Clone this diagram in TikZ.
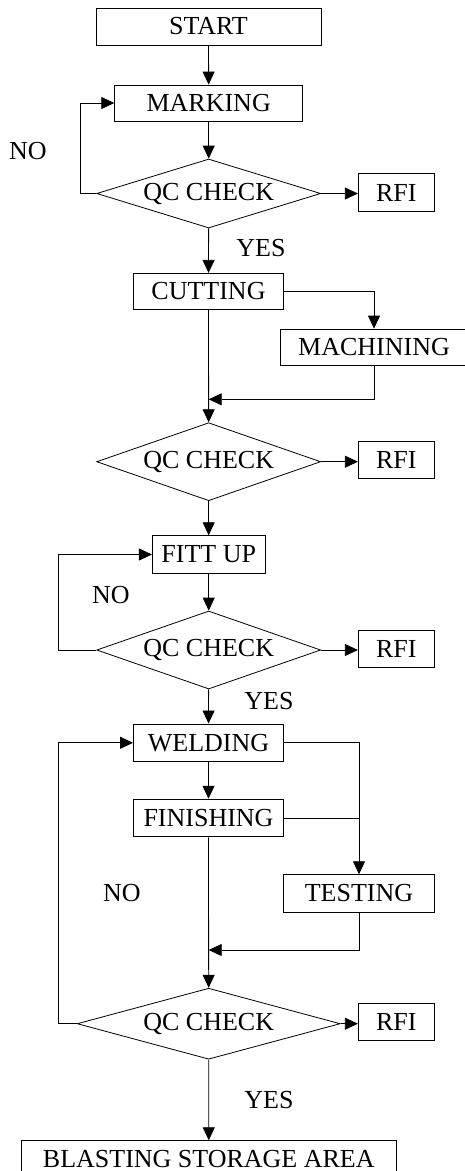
\documentclass[tikz,border=0pt]{standalone}
\usepackage{fontspec}
\setmainfont{Liberation Serif}
\usetikzlibrary{shapes.geometric,arrows.meta}
\begin{document}
\begin{tikzpicture}[x=1pt,y=-1pt]

      \tikzset{stepbox/.style={draw, rectangle, inner sep=0pt, line width=0.8pt, font=\fontsize{26}{30}\selectfont},
               check/.style={draw, diamond, inner sep=0pt, shape aspect=3.5, line width=0.8pt, font=\fontsize{26}{30}\selectfont},
               answer/.style={inner sep=0pt, font=\fontsize{26}{30}\selectfont},
               flow/.style={->, >={Triangle[length=13pt,width=12pt]}, line width=0.8pt}}
      \useasboundingbox (0,0) rectangle (464,1171);
%% Boxes
      	\node[stepbox, minimum width=225pt, minimum height=37pt] (start) at (208.5,26.5) {START};
      	\node[stepbox, minimum width=188pt, minimum height=36pt] (mark) at (208.7,103) {MARKING};
      	\node[check, minimum width=224pt, minimum height=69pt] (qc1) at (208.7,193.5) {QC CHECK};
      	\node[stepbox, minimum width=76pt, minimum height=37.5pt] (rfi1) at (396.3,192.5) {RFI};
      	\node[stepbox, minimum width=150pt, minimum height=36pt] (cut) at (208.5,291.3) {CUTTING};
      	\node[stepbox, minimum width=188pt, minimum height=36pt] (mach) at (374,347) {MACHINING};
      	\node[check, minimum width=224pt, minimum height=78pt] (qc2) at (208.7,461.7) {QC CHECK};
      	\node[stepbox, minimum width=76pt, minimum height=37.5pt] (rfi2) at (396.3,460) {RFI};
      	\node[stepbox, minimum width=112.7pt, minimum height=37.6pt] (fit) at (208.7,554.5) {FITT UP};
      	\node[check, minimum width=224pt, minimum height=78pt] (qc3) at (208.7,650) {QC CHECK};
      	\node[stepbox, minimum width=76pt, minimum height=37.5pt] (rfi3) at (396.3,648.7) {RFI};
      	\node[stepbox, minimum width=150pt, minimum height=37.7pt] (weld) at (208.5,742.8) {WELDING};
      	\node[stepbox, minimum width=150pt, minimum height=37.7pt] (fin) at (208.5,818) {FINISHING};
      	\node[stepbox, minimum width=150.6pt, minimum height=37.6pt] (test) at (359,893.5) {TESTING};
      	\node[check, minimum width=263pt, minimum height=71pt] (qc4) at (208.7,1023.7) {QC CHECK};
      	\node[stepbox, minimum width=76pt, minimum height=37.5pt] (rfi4) at (396.3,1022) {RFI};
      	\node[stepbox, minimum width=375.7pt, minimum height=37pt] (blast) at (208.8,1159.2) {BLASTING STORAGE AREA};
%% Answers
      	\node[answer] (no1) at (28,150.7) {NO};
      	\node[answer] (yes1) at (261,248) {YES};
      	\node[answer] (no2) at (111,595) {NO};
      	\node[answer] (yes2) at (269,700.7) {YES};
      	\node[answer] (no3) at (122,893.3) {NO};
      	\node[answer] (yes3) at (269,1100) {YES};
      	\coordinate (join1) at (208.7,399.3);
      	\coordinate (join2) at (208.7,950);
%Edges
		\draw[flow] (start) -- (mark);
		\draw[flow] (mark) -- (qc1);
		\draw[flow] (qc1.west) -- ++(-15.7,0) |- (mark.west);
		\draw[flow] (qc1.east) -- (rfi1.west |- qc1.east);
		\draw[flow] (qc1) -- (cut);
		\draw[flow] (cut.east) -| (mach.north);
		\draw[flow] (cut) -- (qc2);
		\draw[flow] (mach.south) |- (join1);
		\draw[flow] (qc2.east) -- (rfi2.west |- qc2.east);
		\draw[flow] (qc2) -- (fit);
		\draw[flow] (fit) -- (qc3);
		\draw[flow] (qc3.east) -- (rfi3.west |- qc3.east);
		\draw[flow] (qc3.west) -- ++(-38,0) |- (fit.west);
		\draw[flow] (qc3) -- (weld);
		\draw[flow] (weld) -- (fin);
		\draw[flow] (weld.east) -| (test.north);
		\draw[line width=0.8pt] (fin.east) -- (fin.east -| test.north);
		\draw[flow] (fin) -- (qc4);
		\draw[flow] (test.south) |- (join2);
		\draw[flow] (qc4.east) -- (rfi4.west |- qc4.east);
		\draw[flow] (qc4.west) -- ++(-18.6,0) |- (weld.west);
		\draw[flow] (qc4) -- (blast);

	\end{tikzpicture}
\end{document}
